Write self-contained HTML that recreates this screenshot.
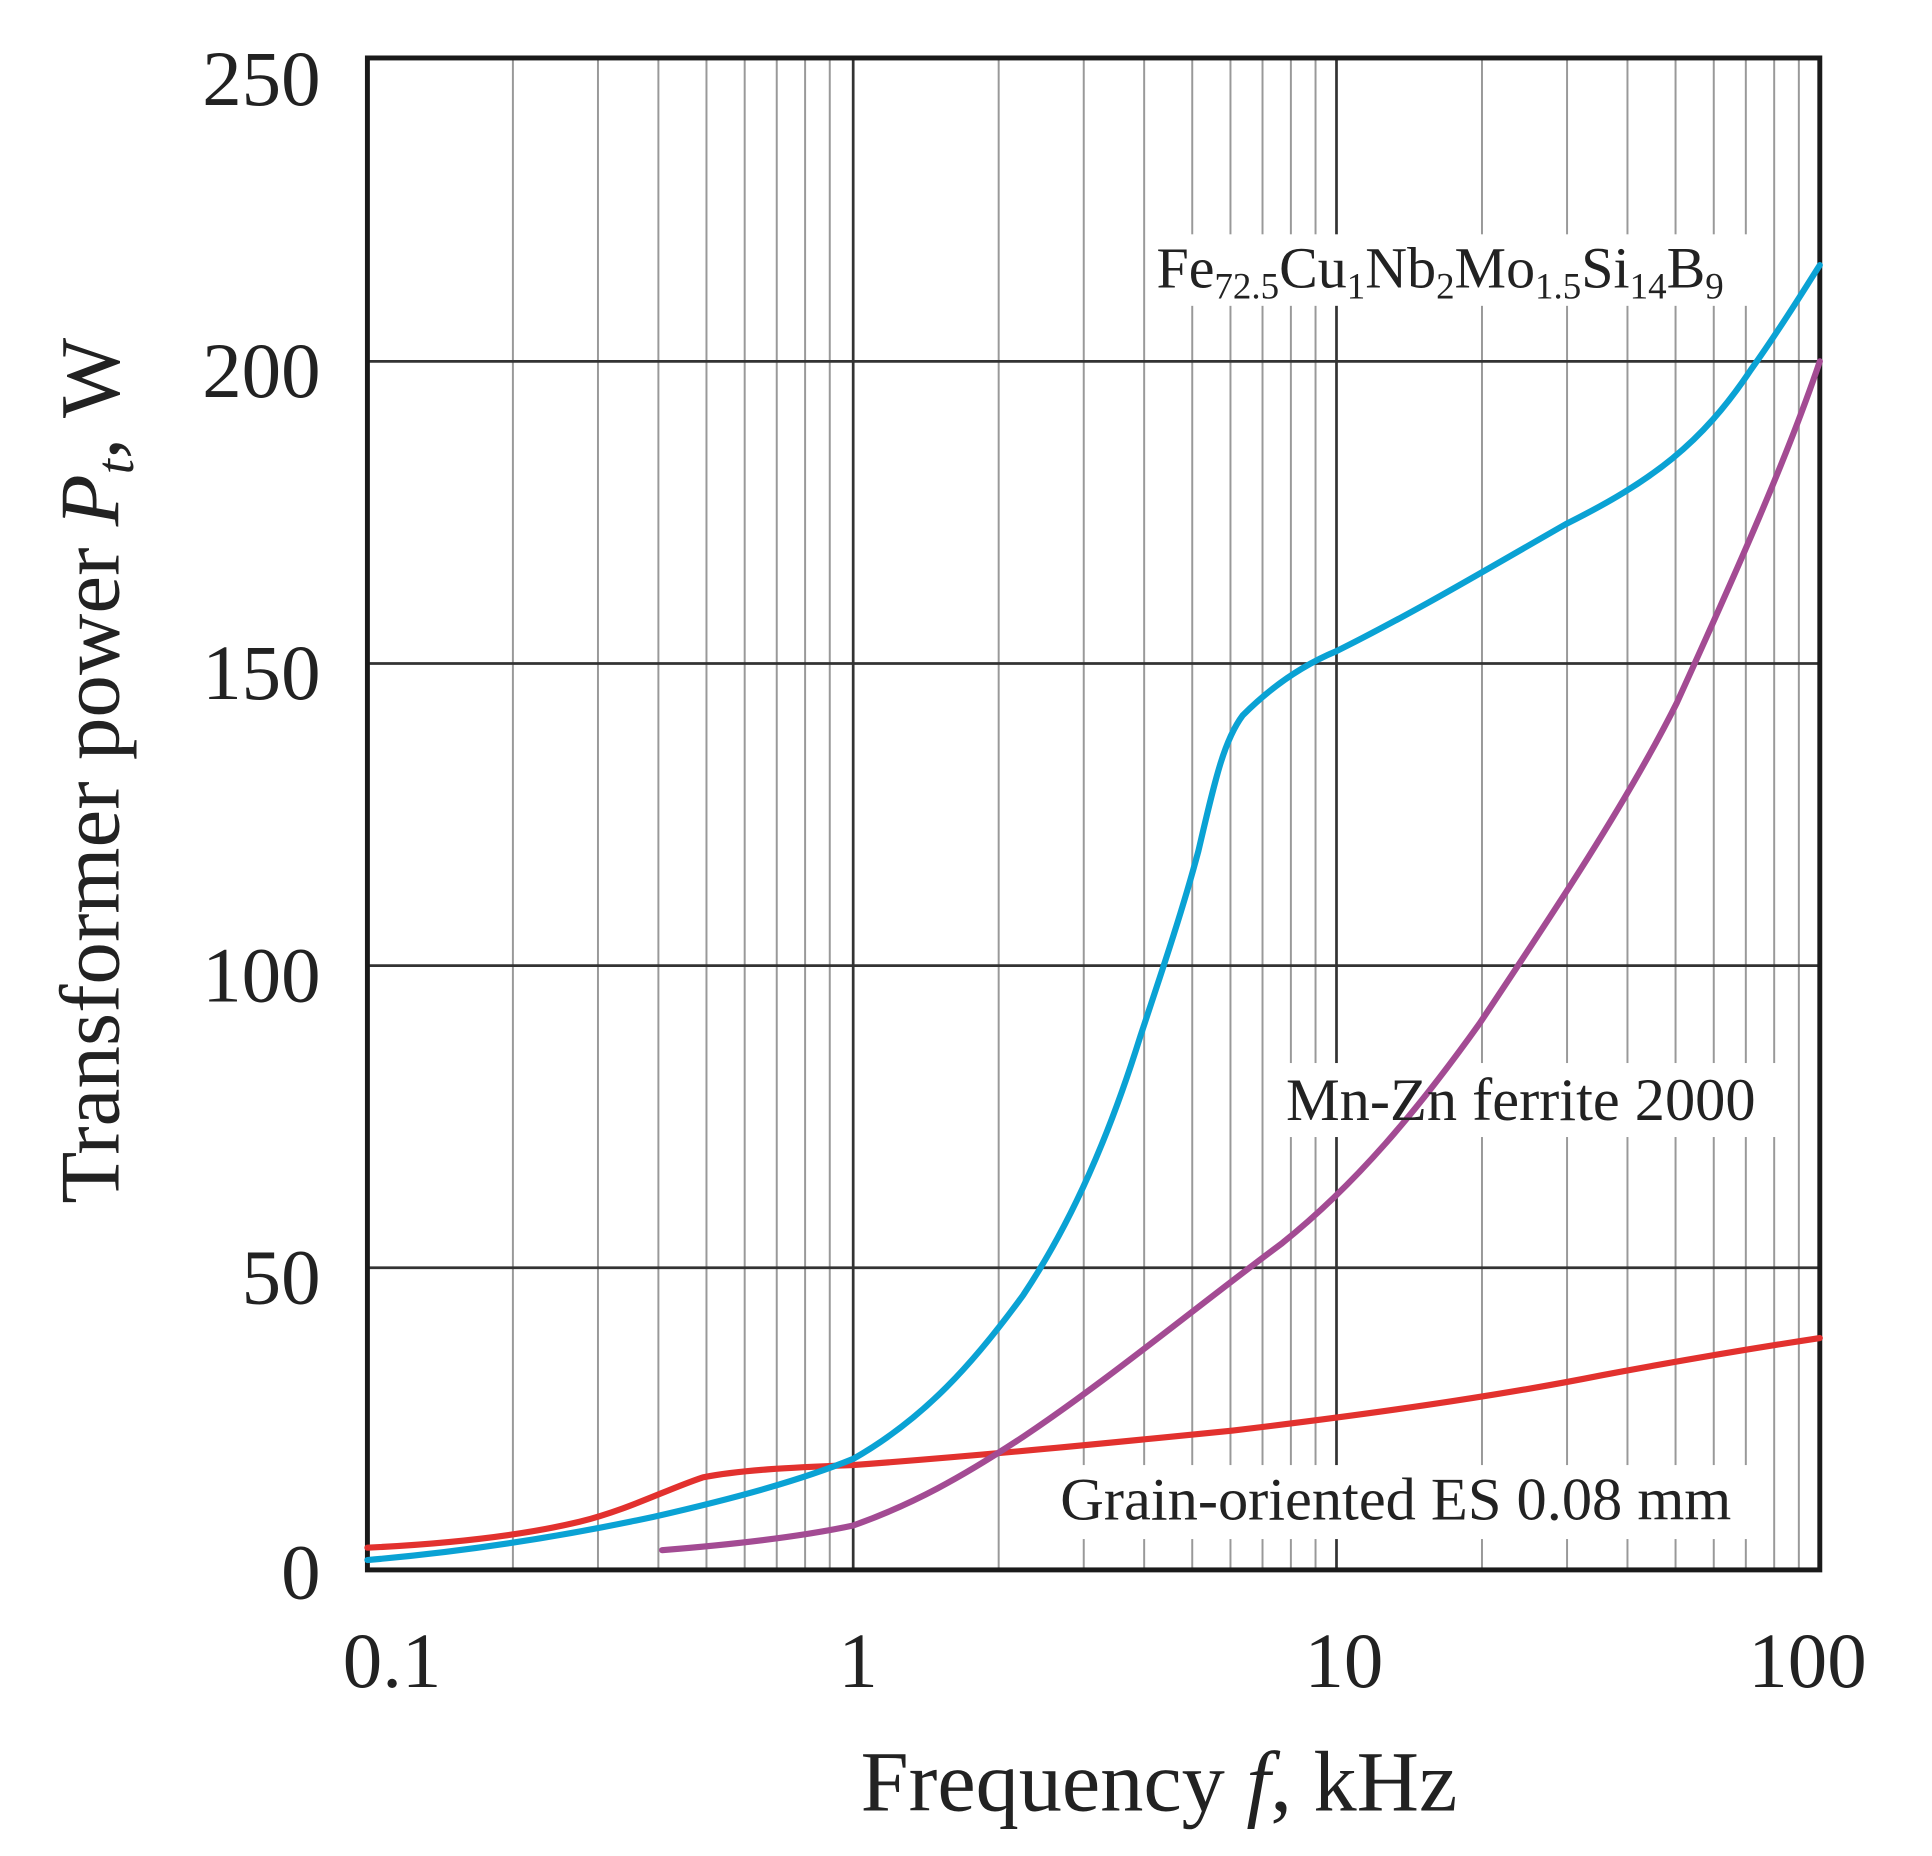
<!DOCTYPE html>
<html><head><meta charset="utf-8"><style>html,body{margin:0;padding:0;background:#fff}svg{display:block}</style></head><body>
<svg width="1932" height="1856" viewBox="0 0 1567 1505" preserveAspectRatio="none" xmlns="http://www.w3.org/2000/svg" font-family="'Liberation Serif', serif" fill="#222">
<g stroke="#999" stroke-width="1.6">
<line x1="416" y1="47" x2="416" y2="1273"/><line x1="485" y1="47" x2="485" y2="1273"/><line x1="534" y1="47" x2="534" y2="1273"/><line x1="573" y1="47" x2="573" y2="1273"/><line x1="604" y1="47" x2="604" y2="1273"/><line x1="630" y1="47" x2="630" y2="1273"/><line x1="653" y1="47" x2="653" y2="1273"/><line x1="673" y1="47" x2="673" y2="1273"/>
<line x1="810" y1="47" x2="810" y2="1273"/><line x1="879" y1="47" x2="879" y2="1273"/><line x1="928" y1="47" x2="928" y2="1273"/><line x1="967" y1="47" x2="967" y2="1273"/><line x1="998" y1="47" x2="998" y2="1273"/><line x1="1024" y1="47" x2="1024" y2="1273"/><line x1="1047" y1="47" x2="1047" y2="1273"/><line x1="1067" y1="47" x2="1067" y2="1273"/>
<line x1="1202" y1="47" x2="1202" y2="1273"/><line x1="1271" y1="47" x2="1271" y2="1273"/><line x1="1320" y1="47" x2="1320" y2="1273"/><line x1="1359" y1="47" x2="1359" y2="1273"/><line x1="1390" y1="47" x2="1390" y2="1273"/><line x1="1416" y1="47" x2="1416" y2="1273"/><line x1="1439" y1="47" x2="1439" y2="1273"/><line x1="1459" y1="47" x2="1459" y2="1273"/>
</g>
<g stroke="#333" stroke-width="2.2">
<line x1="692" y1="47" x2="692" y2="1273"/><line x1="1084" y1="47" x2="1084" y2="1273"/>
<line x1="298" y1="293" x2="1476" y2="293"/><line x1="298" y1="538" x2="1476" y2="538"/><line x1="298" y1="783" x2="1476" y2="783"/><line x1="298" y1="1028" x2="1476" y2="1028"/>
</g>
<rect x="298" y="47" width="1178" height="1226" fill="none" stroke="#1a1a1a" stroke-width="4"/>
<rect x="930" y="190" width="500" height="58" fill="#fff"/>
<rect x="1035" y="862" width="408" height="60" fill="#fff"/>
<rect x="852" y="1188" width="582" height="60" fill="#fff"/>
<g fill="none" stroke-width="5" stroke-linecap="round" stroke-linejoin="round">
<path stroke="#e2312e" d="M298,1255 C360,1252 420,1246 470,1234 C510,1224 540,1208 570,1198 C600,1192 640,1190 692,1188 C800,1180 900,1170 1000,1160 C1084,1150 1200,1135 1300,1115 C1380,1100 1430,1092 1476,1085"/>
<path stroke="#a34b93" d="M537,1257 C600,1252 650,1246 692,1237 C740,1220 780,1198 830,1165 C900,1118 970,1060 1040,1008 C1100,960 1150,900 1200,830 C1260,740 1320,650 1360,570 C1410,460 1450,370 1476,293"/>
<path stroke="#0aa2d4" d="M298,1265 C380,1258 460,1245 530,1230 C600,1214 650,1200 692,1183 C750,1150 790,1105 830,1050 C870,990 900,920 925,840 C945,780 960,735 972,690 C986,630 993,600 1008,580 C1030,558 1055,540 1084,528 C1150,495 1200,465 1270,425 C1340,390 1380,360 1420,300 C1445,265 1460,240 1476,215"/>
</g>
<text x="938" y="233" font-size="47">Fe<tspan font-size="30" dy="9">72.5</tspan><tspan dy="-9">Cu</tspan><tspan font-size="30" dy="9">1</tspan><tspan dy="-9">Nb</tspan><tspan font-size="30" dy="9">2</tspan><tspan dy="-9">Mo</tspan><tspan font-size="30" dy="9">1.5</tspan><tspan dy="-9">Si</tspan><tspan font-size="30" dy="9">14</tspan><tspan dy="-9">B</tspan><tspan font-size="30" dy="9">9</tspan></text>
<text x="1043" y="908" font-size="49">Mn-Zn ferrite 2000</text>
<text x="860" y="1232" font-size="49">Grain-oriented ES 0.08 mm</text>
<g font-size="64" text-anchor="end">
<text x="260" y="85">250</text><text x="260" y="322">200</text><text x="260" y="567">150</text><text x="260" y="812">100</text><text x="260" y="1057">50</text><text x="260" y="1296">0</text>
</g>
<g font-size="64" text-anchor="middle">
<text x="318" y="1368">0.1</text><text x="696" y="1368">1</text><text x="1090" y="1368">10</text><text x="1466" y="1368">100</text>
</g>
<text x="940" y="1468" font-size="70" text-anchor="middle">Frequency <tspan font-style="italic">f</tspan>, kHz</text>
<text transform="translate(96,625) rotate(-90)" font-size="69" text-anchor="middle">Transformer power <tspan font-style="italic">P</tspan><tspan font-style="italic" font-size="44" dy="12">t</tspan><tspan dy="-12">, W</tspan></text>
</svg>
</body></html>
